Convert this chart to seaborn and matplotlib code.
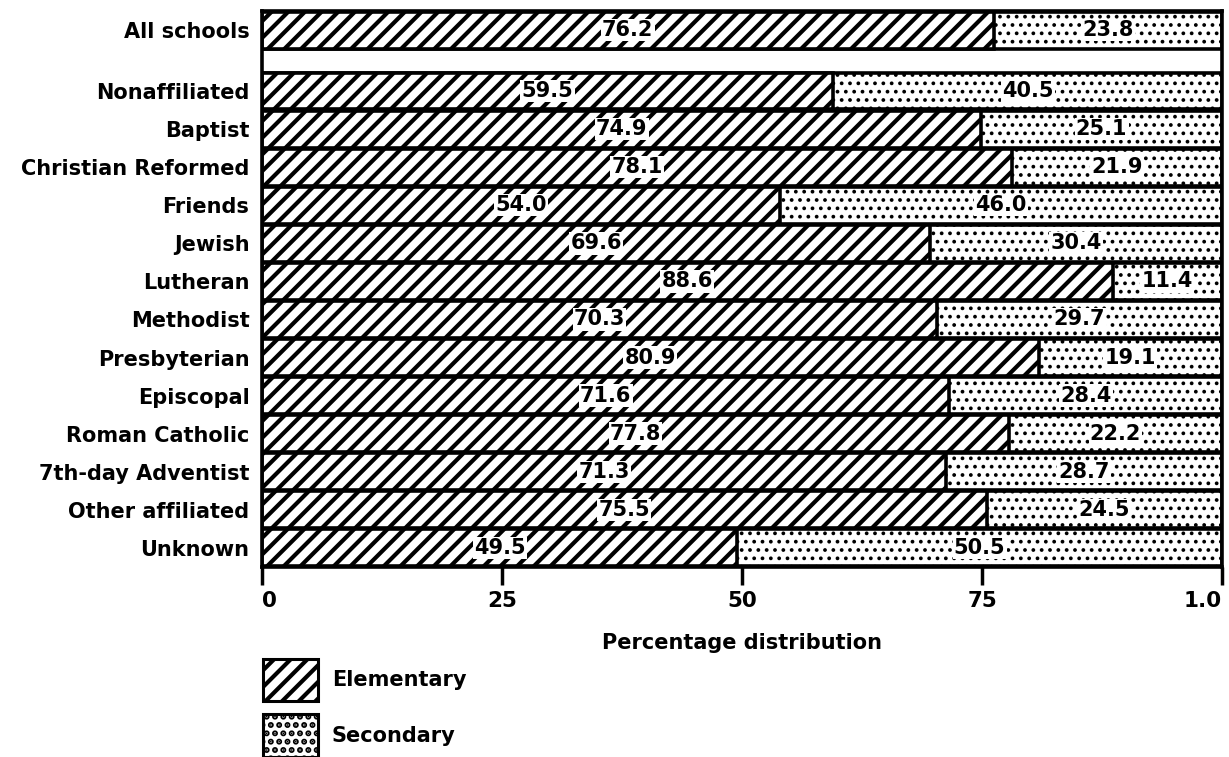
import matplotlib
matplotlib.use("Agg")
import matplotlib.pyplot as plt
from matplotlib.patches import Patch
import seaborn as sns
import pandas as pd

categories = ["All schools", "Nonaffiliated", "Baptist", "Christian Reformed", "Friends",
              "Jewish", "Lutheran", "Methodist", "Presbyterian", "Episcopal",
              "Roman Catholic", "7th-day Adventist", "Other affiliated", "Unknown"]
elementary = [76.2, 59.5, 74.9, 78.1, 54.0, 69.6, 88.6, 70.3, 80.9, 71.6, 77.8, 71.3, 75.5, 49.5]
secondary = [23.8, 40.5, 25.1, 21.9, 46.0, 30.4, 11.4, 29.7, 19.1, 28.4, 22.2, 28.7, 24.5, 50.5]
tick_values = [0, 25, 50, 75, 100]
tick_labels = ["0", "25", "50", "75", "1.0"]
series_names = ["Elementary", "Secondary"]

sns.set_style("white")
plt.rcParams["font.family"] = ["DejaVu Sans"]
plt.rcParams["text.color"] = "black"
plt.rcParams["axes.labelcolor"] = "black"
plt.rcParams["xtick.color"] = "black"
plt.rcParams["ytick.color"] = "black"
plt.rcParams["hatch.linewidth"] = 3.0
plt.rcParams["hatch.color"] = "black"

positions = [-1.6] + list(range(len(categories) - 1))
df = pd.DataFrame({
    "pos": positions,
    "category": categories,
    "elem": elementary,
    "sec": secondary,
})
df["total"] = df["elem"] + df["sec"]

fig = plt.figure(figsize=(12.29, 7.57), dpi=100)
ax = fig.add_axes([262 / 1229, 1 - 567 / 757, (1222 - 262) / 1229, (567 - 11) / 757])

W = 0.97
LW = 2.6
sns.barplot(data=df, x="total", y="pos", orient="h", native_scale=True, color="white",
            edgecolor="black", linewidth=LW, width=W, errorbar=None, ax=ax, saturation=1)
n = len(ax.patches)
sns.barplot(data=df, x="elem", y="pos", orient="h", native_scale=True, color="white",
            edgecolor="black", linewidth=LW, width=W, errorbar=None, ax=ax, saturation=1)
for i, p in enumerate(ax.patches):
    if i < n:
        p.set_hatch("..")
        if hasattr(p, "set_hatch_linewidth"):
            p.set_hatch_linewidth(1.5)
    else:
        p.set_hatch("//")

lab_kw = dict(ha="center", va="center", fontsize=15, fontweight="bold", color="black",
              bbox=dict(boxstyle="square,pad=0.06", fc="white", ec="none"))
for pos, e, s in zip(df["pos"], df["elem"], df["sec"]):
    ax.text(e / 2, pos, f"{e:.1f}", **lab_kw)
    ax.text(e + s / 2, pos, f"{s:.1f}", **lab_kw)

ax.set_xlim(0, 100)
ax.set_ylim(positions[-1] + 0.5, positions[0] - 0.5)
ax.set_yticks(positions)
ax.set_yticklabels(categories, fontsize=15, fontweight="bold")
ax.tick_params(axis="y", left=False, length=0, pad=9)
ax.set_xticks(tick_values)
ax.set_xticklabels(tick_labels, fontsize=15.5, fontweight="bold")
ax.tick_params(axis="x", bottom=True, length=13, width=2.5, direction="out", pad=4, color="black")
xt = ax.get_xticklabels()
xt[0].set_ha("left")
xt[-1].set_ha("right")
ax.set_ylabel("")
ax.set_xlabel("Percentage distribution", fontsize=15, fontweight="bold", labelpad=16)
for side in ["left", "right", "bottom", "top"]:
    ax.spines[side].set_visible(True)
    ax.spines[side].set_linewidth(LW)
    ax.spines[side].set_color("black")

handles = [Patch(facecolor="white", edgecolor="black", hatch="//", linewidth=2.2),
           Patch(facecolor="white", edgecolor="black", hatch="..", linewidth=2.2)]
if hasattr(handles[1], "set_hatch_linewidth"):
    handles[1].set_hatch_linewidth(1.5)
fig.legend(handles=handles, labels=series_names, loc="upper left",
           bbox_to_anchor=(263 / 1229, 1 - 659 / 757), frameon=False, borderpad=0,
           borderaxespad=0, handlelength=2.65, handleheight=2.75, labelspacing=0.62,
           handletextpad=0.65, prop=dict(size=15, weight="bold"))

fig.savefig("out.png", dpi=100)
